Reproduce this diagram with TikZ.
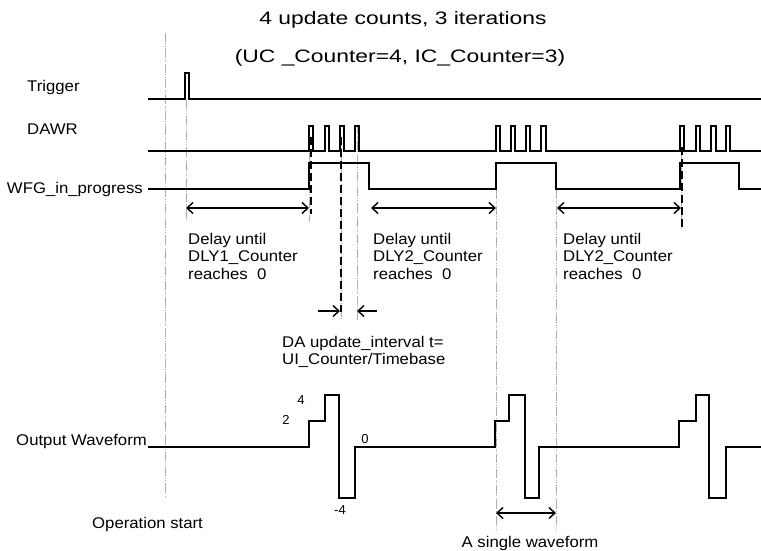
\documentclass[tikz,border=0pt]{standalone}
\usepackage{fontspec}
\setmainfont{Liberation Sans}
\newfontfamily\titlef[FakeStretch=1.27]{Liberation Sans}
\newfontfamily\labf[FakeStretch=1.08]{Liberation Sans}
\usetikzlibrary{arrows.meta}
\begin{document}
\begin{tikzpicture}[x=1pt,y=-1pt,
  sig/.style={line width=1.8pt, line join=miter},
  dim/.style={line width=1.4pt, {Straight Barb[length=6pt,width=11pt]}-{Straight Barb[length=6pt,width=11pt]}},
  dimr/.style={line width=1.4pt, -{Straight Barb[length=6pt,width=11pt]}},
  guide/.style={gray!65, line width=0.7pt, dash pattern=on 9pt off 1.5pt on 1pt off 1.5pt on 1pt off 1.5pt},
  thickdash/.style={line width=2.6pt, dash pattern=on 8pt off 4pt},
  lab/.style={inner sep=0, anchor=base west, font=\labf\fontsize{15.5}{17}\selectfont},
  labr/.style={inner sep=0, anchor=base east, font=\labf\fontsize{15.5}{17}\selectfont},
  ttl/.style={inner sep=0, anchor=base, font=\titlef\fontsize{18}{21}\selectfont},
  num/.style={inner sep=0, anchor=base, font=\fontsize{13}{14}\selectfont}]
\useasboundingbox[fill=white] (0,0) rectangle (761,551);

% guide lines
\draw[guide] (165,33) -- (165,497);
\draw[guide] (186,100) -- (186,220);
\draw[guide] (309,137) -- (309,222);
\draw[guide] (341,137) -- (341,320);
\draw[guide] (357,125) -- (357,320);
\draw[guide] (496,190) -- (496,530);
\draw[guide] (556,190) -- (556,530);
\draw[guide] (681,150) -- (681,228);

% thick dashed markers
\draw[thickdash] (311,137) -- (311,214);
\draw[thickdash] (341,137) -- (341,312);
\draw[thickdash] (682,147) -- (682,227);

% titles
\node[ttl] (t1) at (403,25) {4 update counts, 3 iterations};
\node[ttl] (t2) at (400,63) {(UC \_Counter=4, IC\_Counter=3)};

% signal names
\node[lab] (ltrig) at (27,92) {Trigger};
\node[lab] (ldawr) at (27,134) {DAWR};
\node[labr] (lwfg) at (143,193) {WFG\_in\_progress};
\node[labr] (lout) at (147,445) {Output Waveform};

% Trigger
\draw[sig] (148,99) -- (185,99) -- (185,73) -- (189,73) -- (189,99) -- (761,99);

% DAWR
\draw[sig] (148,151)
  -- (309,151) -- (309,126) -- (313,126) -- (313,151)
  -- (325,151) -- (325,126) -- (329,126) -- (329,151)
  -- (340,151) -- (340,126) -- (344,126) -- (344,151)
  -- (355,151) -- (355,126) -- (359,126) -- (359,151)
  -- (496,151) -- (496,126) -- (500,126) -- (500,151)
  -- (511,151) -- (511,126) -- (515,126) -- (515,151)
  -- (526,151) -- (526,126) -- (530,126) -- (530,151)
  -- (541,151) -- (541,126) -- (546,126) -- (546,151)
  -- (680,151) -- (680,126) -- (684,126) -- (684,151)
  -- (696,151) -- (696,126) -- (700,126) -- (700,151)
  -- (711,151) -- (711,126) -- (716,126) -- (716,151)
  -- (726,151) -- (726,126) -- (730,126) -- (730,151)
  -- (761,151);

% WFG_in_progress
\draw[sig] (148,189) -- (309,189) -- (309,163) -- (369,163) -- (369,189)
  -- (496,189) -- (496,163) -- (556,163) -- (556,189)
  -- (680,189) -- (680,163) -- (739,163) -- (739,189) -- (761,189);

% Output waveform
\draw[sig] (148,447) -- (309,447) -- (309,421) -- (325,421) -- (325,395) -- (339,395)
  -- (339,498) -- (355,498) -- (355,447)
  -- (495,447) -- (495,421) -- (509,421) -- (509,395) -- (525,395)
  -- (525,498) -- (539,498) -- (539,447)
  -- (679,447) -- (679,421) -- (696,421) -- (696,395) -- (709,395)
  -- (709,498) -- (726,498) -- (726,447) -- (761,447);
\node[num] (n4) at (301,404) {4};
\node[num] (n2) at (286,424) {2};
\node[num] (n0) at (365,443) {0};
\node[num] (nm4) at (340,514) {-4};

% delay arrows
\coordinate (a1l) at (186,208); \coordinate (a1r) at (309,208);
\coordinate (a2l) at (371,208); \coordinate (a2r) at (496,208);
\coordinate (a3l) at (557,208); \coordinate (a3r) at (681,208);
\draw[dim] (a1l) -- (a1r);
\draw[dim] (a2l) -- (a2r);
\draw[dim] (a3l) -- (a3r);

\node[lab] (d1a) at (188,244) {Delay until};
\node[lab] (d1b) at (188,261.5) {DLY1\_Counter};
\node[lab] (d1c) at (188,279) {reaches\ \ 0};
\node[lab] (d2a) at (373,244) {Delay until};
\node[lab] (d2b) at (373,261.5) {DLY2\_Counter};
\node[lab] (d2c) at (373,279) {reaches\ \ 0};
\node[lab] (d3a) at (563,244) {Delay until};
\node[lab] (d3b) at (563,261.5) {DLY2\_Counter};
\node[lab] (d3c) at (563,279) {reaches\ \ 0};

% update interval arrows
\coordinate (u1s) at (318,311); \coordinate (u1e) at (340,311);
\coordinate (u2s) at (377,311); \coordinate (u2e) at (357,311);
\draw[dimr] (u1s) -- (u1e);
\draw[dimr] (u2s) -- (u2e);
\node[lab] (ua) at (282,347) {DA update\_interval t=};
\node[lab] (ub) at (282,364) {UI\_Counter/Timebase};

% single waveform
\coordinate (s1) at (496,513); \coordinate (s2) at (556,513);
\draw[dim] (s1) -- (s2);
\node[inner sep=0, anchor=base, font=\labf\fontsize{15.5}{17}\selectfont] (sw) at (530,547) {A single waveform};
\node[lab] (os) at (92,528) {Operation start};
\end{tikzpicture}
\end{document}
